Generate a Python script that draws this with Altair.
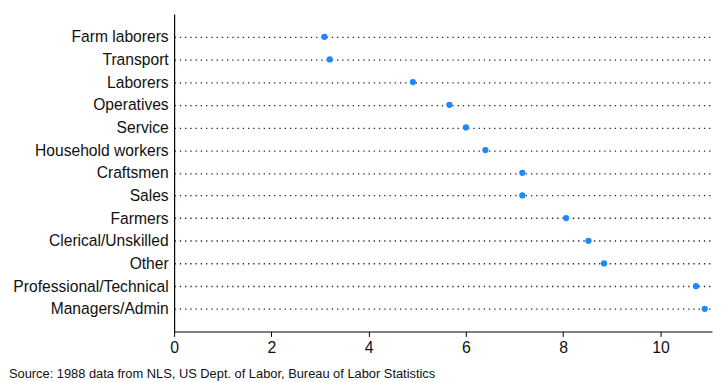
import altair as alt
import pandas as pd

categories = ["Farm laborers", "Transport", "Laborers", "Operatives", "Service",
              "Household workers", "Craftsmen", "Sales", "Farmers",
              "Clerical/Unskilled", "Other", "Professional/Technical", "Managers/Admin"]
values = [3.09, 3.20, 4.91, 5.66, 6.00, 6.40, 7.16, 7.16, 8.06, 8.52, 8.84, 10.73, 10.91]
x_ticks = [0, 2, 4, 6, 8, 10]
source_text = ["Source: 1988 data from NLS, US Dept. of Labor, Bureau of Labor Statistics"]

df = pd.DataFrame({"occupation": categories, "value": values})
src = pd.DataFrame({"t": source_text})

FONT = "Liberation Sans"

points = alt.Chart(df).mark_circle(size=40, color="#1e88ff", opacity=1).encode(
    x=alt.X("value:Q",
            scale=alt.Scale(domain=[0, 11.06], nice=False, zero=True),
            axis=alt.Axis(values=x_ticks, title=None, grid=False, tickSize=5,
                          tickColor="black", domainColor="black", domainWidth=1.2,
                          labelFontSize=16, labelColor="#111", labelFont=FONT,
                          labelPadding=3, labelFlush=False)),
    y=alt.Y("occupation:N", sort=categories,
            scale=alt.Scale(type="point", padding=1.17),
            axis=alt.Axis(title=None, ticks=False, domainColor="black", domainWidth=1.2,
                          grid=True, gridColor="#222", gridDash=[1.3, 4], gridWidth=1.3,
                          labelFontSize=15.8, labelColor="#111", labelFont=FONT,
                          labelPadding=6))
)

source = alt.Chart(src).mark_text(align="left", baseline="middle", fontSize=13,
                                  font=FONT, color="#111").encode(
    text="t:N",
    x=alt.value(-167),
    y=alt.value(364),
)

chart = alt.layer(points, source).properties(
    width=544, height=321,
    autosize=alt.AutoSizeParams(type="none"),
    padding={"left": 168, "top": 4, "right": 1, "bottom": 54},
).configure_view(stroke=None)

chart.save("out.html", embed_options={"renderer": "svg", "actions": False})
